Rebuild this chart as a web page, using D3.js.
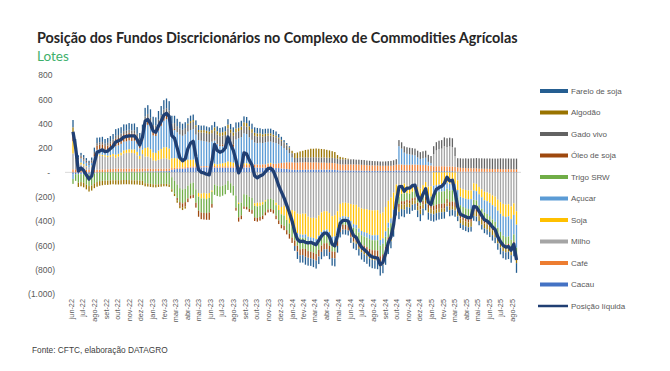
<!DOCTYPE html>
<html>
<head>
<meta charset="utf-8">
<script src="https://cdn.jsdelivr.net/npm/d3@7"></script>
<style>
body { margin: 0; background: #fff; }
svg { display: block; font-family: "Liberation Sans", Arial, sans-serif; }
</style>
</head>
<body>
<script>
// weekly CFTC data (mil contratos), jun-22 .. ago-25
var firstWeek = new Date(2022, 5, 7);

var cacau = [-15,-15,-15,-15,-15,-15,-18,-18,-10,-5,
  0,2,2,3,3,4,5,5,5,5, 5,5,5,5,5,5,6,8,8,8, 8,9,9,10,10,10,12,20,25,28,
  30,30,32,35,38,40,40,40,40,42, 42,40,40,40,38,38,38,38,38,38, 38,40,40,40,40,40,40,40,40,40,
  38,38,38,38,38,38,36,35,32,30, 28,25,22,20,20,20,20,22,22,22, 22,22,22,22,22,22,22,22,20,18,
  15,15,15,15,15,15,14,14,14,13, 13,12,12,12,12,12,12,12,12,12, 12,15,15,15,12,12,12,12,12,10,
  10,10,10,8,8,10,10,10,10,10, 10,10,10,8,6,5,5,5,5,5, 5,5,4,4,4,4,3,3,3,3, 3,3,3,3,3,3,3];
var cafe = [25,25,25,25,22,22,20,20,20,22,
  22,22,22,22,24,24,25,25,25,25, 25,25,25,25,25,25,25,22,22,22, 20,20,20,20,20,20,18,15,12,12,
  10,10,10,10,10,10,10,10,10,10, 10,10,12,12,12,12,12,12,12,12, 12,20,20,20,20,20,20,22,25,25,
  25,28,28,30,30,32,35,40,45,50, 55,58,60,60,60,62,62,62,60,60, 60,60,58,58,58,56,56,55,55,52,
  50,50,50,50,50,50,50,50,48,48, 46,45,45,44,44,42,42,42,42,42, 45,48,50,50,50,50,50,52,52,52,
  50,50,50,48,48,40,40,40,40,40, 38,38,38,36,35,32,30,30,28,28, 28,28,26,26,25,25,25,24,24,24, 24,23,23,23,22,22,22];
var milho = [130,80,35,40,35,25,20,30,70,110,
  115,110,105,100,100,105,90,100,110,125, 130,132,130,128,110,80,120,100,100,90, 70,65,75,80,85,85,75,-40,-70,-100,
  -130,-140,-135,-110,-90,-85,-140,-170,-175,-170, -175,-170,-150,-100,-110,-115,-110,-100,-70,-90, -110,-190,-250,-250,-180,-185,-200,-210,-255,-250,
  -250,-245,-230,-220,-215,-225,-250,-270,-285,-275, -290,-300,-310,-320,-340,-345,-340,-340,-364,-374, -374,-378,-355,-330,-320,-320,-335,-360,-352,-320,
  -260,-250,-250,-255,-260,-266,-267,-287,-297,-301, -303,-310,-313,-312,-311,-341,-330,-285,-234,-208, -167,-100,-130,-102,-92,-110,-115,-105,-100,-120,
  -135,-105,-80,-118,-114,100,130,140,145,165, 160,165,160,90,-66,-130,-140,-145,-150,-150, -90,-95,-120,-140,-160,-165,-175,-190,-200,-225, -245,-260,-265,-262,-280,-255,-320];
var soja = [100,60,10,15,10,5,0,5,5,8,
  10,10,12,12,15,18,25,22,22,25, 25,28,28,30,28,25,35,70,75,70, 65,65,75,82,90,92,90,80,80,75,
  70,65,70,60,55,55,30,-30,-40,-45, -45,-40,-10,20,15,20,25,30,40,35, 30,10,-10,0,15,15,10,5,-20,-30,
  -25,-20,-10,5,10,0,-20,-40,-60,-80, -100,-120,-140,-150,-160,-165,-173,-170,-165,-160, -165,-170,-165,-160,-155,-150,-155,-170,-175,-140,
  -110,-110,-112,-112,-140,-160,-165,-175,-185,-190, -195,-200,-205,-205,-205,-215,-212,-200,-180,-170, -140,-90,-70,-75,-80,-60,-60,-55,-55,-70,
  -75,-70,-65,-80,-85,-110,-105,-100,-100,-100, -85,-95,-95,-95,-80,-70,-70,-72,-72,-70, -60,-60,-60,-65,-70,-72,-75,-80,-82,-90, -95,-100,-102,-100,-105,-95,-110];
var acucar = [-40,10,30,35,30,25,20,25,35,45,
  45,48,45,48,52,55,70,70,72,72, 70,72,70,72,68,62,70,170,185,170, 140,140,165,190,220,230,222,220,230,215,
  200,195,200,230,245,250,230,215,210,205, 200,195,200,190,170,145,140,135,170,145, 130,200,220,230,245,240,218,200,180,175,
  180,175,180,178,175,175,170,155,140,120, 100,75,40,-10,-20,-25,-25,-30,-30,-30, -32,-35,-32,-30,-28,-30,-32,-35,-38,-30,
  -25,-20,-20,-22,-25,-28,-30,-32,-35,-36, -38,-40,-40,-42,-42,-45,-45,-45,-42,-40, -38,-20,150,130,100,90,85,80,75,60,
  50,55,60,30,20,-60,-60,-60,-58,-55, -50,-55,-52,-55,-60,-70,-75,-78,-80,-80, -75,-75,-90,-95,-100,-105,-110,-118,-125,-140, -150,-160,-165,-165,-170,-160,-190];
var trigo = [-40,-55,-70,-65,-70,-85,-95,-90,-80,-75,
  -72,-70,-68,-68,-66,-65,-65,-65,-64,-63, -63,-64,-65,-66,-66,-68,-70,-90,-92,-95, -98,-100,-98,-96,-95,-95,-100,-100,-105,-110,
  -115,-115,-110,-105,-100,-100,-110,-115,-115,-118, -115,-120,-100,-85,-85,-85,-82,-80,-75,-78, -80,-100,-110,-105,-100,-100,-100,-100,-95,-95,
  -92,-90,-88,-85,-85,-85,-85,-85,-85,-85, -85,-85,-85,-80,-82,-97,-90,-90,-88,-88, -88,-88,-85,-82,-80,-82,-82,-85,-88,-70,
  -55,-50,-50,-50,-60,-65,-65,-70,-72,-75, -78,-80,-82,-82,-84,-88,-86,-80,-78,-75, -70,-60,-60,-60,-65,-55,-55,-52,-52,-60,
  -65,-60,-58,-65,-68,-105,-100,-100,-100,-100, -85,-95,-92,-95,-90,-85,-85,-85,-85,-82, -75,-75,-70,-70,-70,-68,-68,-66,-65,-65, -65,-64,-62,-62,-62,-60,-62];
var oleo = [55,30,5,10,8,5,0,5,20,35,
  35,38,30,35,40,42,60,60,60,62, 62,62,60,60,55,50,55,55,55,52, 50,48,50,50,50,50,48,20,10,-20,
  -30,-35,-35,-30,-25,-25,-40,-50,-55,-55, -55,-60,-30,10,5,10,15,20,30,25, 20,-25,-35,-30,-20,-20,-25,-30,-30,-30,
  -30,-30,-25,-25,-25,-28,-30,-30,-30,-35, -35,-40,-45,-45,-50,-50,-52,-64,-55,-55, -55,-55,-55,-52,-50,-50,-52,-55,-55,-45,
  -40,-40,-40,-40,-45,-48,-48,-50,-50,-52, -52,-55,-55,-55,-56,-58,-56,-55,-50,-48, -40,-30,-25,-25,-28,-25,-25,-22,-22,-28,
  -30,-28,-25,-30,-32,-40,-40,-40,-40,-40, -35,-38,-38,-40,-30,-25,-25,-25,-25,-25, -20,-20,-20,-20,-20,-20,-22,-22,-22,-22, -22,-22,-22,-22,-22,-20,-22];
var gado = [20,18,15,15,15,15,15,15,18,20,
  20,20,20,22,22,22,25,25,25,25, 25,26,26,26,26,26,26,35,35,36, 36,37,38,38,40,40,42,45,48,50,
  50,50,52,55,58,60,62,65,68,70, 70,70,70,70,70,72,72,72,72,70, 70,60,58,58,60,60,60,58,55,55,
  55,52,52,50,50,50,48,45,42,40, 38,36,35,38,38,40,40,40,40,42, 42,42,42,42,42,42,42,42,42,42,
  42,42,42,42,42,42,40,40,40,40, 38,38,36,36,35,35,35,36,38,40, 42,45,50,52,52,54,55,55,56,56,
  56,58,58,58,58,65,68,70,70,72, 72,72,72,70,75,78,78,80,80,82, 82,84,85,85,85,85,86,86,86,86, 88,88,88,88,88,88,88];
var algodao = [40,10,-35,-35,-38,-40,-45,-42,-40,-38,
  -38,-36,-35,-35,-34,-33,-35,-35,-35,-35, -35,-34,-34,-34,-34,-35,-35,-25,-25,-25, -25,-24,-22,-22,-20,-20,-20,-20,-20,-20,
  -20,-20,-18,10,15,15,15,18,18,20, 20,20,25,28,28,28,28,30,30,28, 28,30,28,28,30,30,30,30,25,25,
  22,20,20,18,18,15,12,10,8,5, 5,10,20,40,45,50,55,60,65,70, 70,72,72,70,68,65,60,55,50,30,
  20,15,10,5,-5,-10,-12,-15,-18,-20, -22,-25,-25,-28,-28,-30,-30,-30,-28,-25, -22,-15,-40,-40,-42,-35,-35,-32,-30,-35,
  -38,-35,-32,-38,-40,-30,-30,-30,-30,-30, -25,-28,-28,-30,-35,-38,-38,-38,-40,-40, -38,-38,-40,-40,-40,-40,-40,-40,-40,-42, -42,-42,-42,-42,-42,-40,-42];
var farelo = [60,40,20,20,22,20,20,22,35,45,
  40,42,38,40,42,45,55,55,52,55, 52,55,55,56,55,50,55,70,72,70, 68,68,72,75,78,80,78,65,60,60,
  55,50,48,45,45,45,40,40,38,38, 35,35,40,45,40,40,40,42,45,45, 42,50,45,48,50,50,48,45,45,45,
  42,42,40,40,38,38,35,30,25,20, 15,10,0,-40,-60,-60,-62,-65,-65,-62, -65,-65,-62,-60,-58,-55,-58,-62,-65,-55,
  -45,-40,-40,-40,-45,-50,-52,-55,-60,-62, -64,-65,-68,-68,-70,-72,-70,-65,-60,-58, -52,-40,-60,-60,-62,-55,-52,-50,-50,-55,
  -58,-55,-52,-58,-60,-60,-60,-58,-55,-55, -45,-50,-50,-50,-40,-40,-40,-40,-40,-40, -40,-40,-35,-40,-40,-42,-42,-45,-48,-52, -55,-58,-60,-60,-62,-60,-80];
var liquida = [333,200,10,35,15,-20,-55,-30,80,165,
  175,185,170,175,195,215,250,260,270,290, 295,300,300,300,270,225,290,420,435,400, 340,330,380,420,470,485,460,300,280,200,
  120,95,110,195,240,255,130,20,0,-5, -15,-20,90,230,180,165,175,200,290,230, 180,100,-5,40,160,150,100,60,-30,-45,
  -30,-20,5,30,35,10,-45,-110,-160,-210, -270,-330,-400,-490,-550,-570,-565,-575,-580,-575, -585,-595,-560,-525,-500,-500,-530,-590,-605,-520,
  -420,-395,-395,-400,-470,-520,-535,-580,-615,-635, -655,-680,-695,-700,-705,-760,-740,-670,-580,-530, -430,-250,-120,-115,-155,-130,-130,-110,-105,-190,
  -235,-180,-135,-245,-265,-190,-140,-125,-115,-90, -40,-70,-65,-160,-285,-345,-355,-365,-375,-370, -280,-285,-320,-355,-390,-400,-420,-450,-470,-530, -570,-600,-615,-610,-640,-590,-720];

var keys = ["cacau", "cafe", "milho", "soja", "acucar", "trigo", "oleo", "gado", "algodao", "farelo"];
var names = {cacau: "Cacau", cafe: "Café", milho: "Milho", soja: "Soja", acucar: "Açucar",
  trigo: "Trigo SRW", oleo: "Óleo de soja", gado: "Gado vivo", algodao: "Algodão", farelo: "Farelo de soja"};
var colors = {cacau: "#4472C4", cafe: "#ED7D31", milho: "#A5A5A5", soja: "#FFC000", acucar: "#5B9BD5",
  trigo: "#70AD47", oleo: "#9E480E", gado: "#636363", algodao: "#997300", farelo: "#255E91"};
var lineColor = "#203F73";

var yTicks = [800, 600, 400, 200, 0, -200, -400, -600, -800, -1000];
var meses = ["jan", "fev", "mar", "abr", "mai", "jun", "jul", "ago", "set", "out", "nov", "dez"];

var seriesData = {cacau: cacau, cafe: cafe, milho: milho, soja: soja, acucar: acucar,
  trigo: trigo, oleo: oleo, gado: gado, algodao: algodao, farelo: farelo};

var rows = liquida.map(function(v, i) {
  var r = {date: d3.timeDay.offset(firstWeek, i * 7), liquida: v};
  keys.forEach(function(k) { r[k] = seriesData[k][i]; });
  return r;
});

var width = 670, height = 371;

var svg = d3.select("body").append("svg")
    .attr("width", width)
    .attr("height", height);

var x = d3.scaleTime()
    .domain([rows[0].date, rows[rows.length - 1].date])
    .range([73, 516.5]);

var y = d3.scaleLinear()
    .domain([-1000, 800])
    .range([294, 75]);

// title
var title = svg.append("text")
    .attr("x", 37).attr("y", 43)
    .attr("fill", "#262626")
    .style("font-family", "Lato, 'Open Sans', sans-serif")
    .style("font-weight", "bold")
    .style("font-size", "14px")
    .text("Posição dos Fundos Discricionários no Complexo de Commodities Agrícolas");
var tl = title.node().getComputedTextLength();
title.style("font-size", (14 * 481 / tl) + "px");

svg.append("text")
    .attr("x", 37).attr("y", 61)
    .attr("fill", "#3DB06B")
    .style("font-family", "Lato, 'Open Sans', sans-serif")
    .style("font-size", "13.5px")
    .text("Lotes");

// y axis labels
var loc = d3.formatLocale({decimal: ",", thousands: ".", grouping: [3], currency: ["R$", ""]});
var fmt = loc.format(",d");
var yAxis = svg.append("g")
    .attr("transform", "translate(55,0)")
    .call(d3.axisLeft(y).tickValues(yTicks).tickSize(0).tickPadding(0)
      .tickFormat(function(d) {
        if (d === 0) return "-";
        return d < 0 ? "(" + fmt(-d) + ")" : fmt(d);
      }));
yAxis.select(".domain").remove();
yAxis.selectAll("text")
    .attr("fill", "#595959")
    .style("font-size", "8.5px")
    .style("font-family", "'Liberation Sans', Arial, sans-serif")
    .attr("x", function(d) { return d === 0 ? -5 : (d > 0 ? -2.5 : 0); });

// zero line
svg.append("line")
    .attr("x1", 65).attr("x2", 521)
    .attr("y1", y(0)).attr("y2", y(0))
    .attr("stroke", "#D9D9D9")
    .attr("stroke-width", 1);

// stacked bars
var stacked = d3.stack().keys(keys).offset(d3.stackOffsetDiverging)(rows);
var bw = 1.3;

svg.append("g")
  .selectAll("g")
  .data(stacked)
  .enter().append("g")
    .attr("fill", function(s) { return colors[s.key]; })
  .selectAll("rect")
  .data(function(s) { return s; })
  .enter().append("rect")
    .attr("x", function(d) { return x(d.data.date) - bw / 2; })
    .attr("width", bw)
    .attr("y", function(d) { return y(Math.max(d[0], d[1])); })
    .attr("height", function(d) { return Math.abs(y(d[0]) - y(d[1])); });

// net position line
svg.append("path")
    .datum(rows)
    .attr("fill", "none")
    .attr("stroke", lineColor)
    .attr("stroke-width", 3.3)
    .attr("stroke-linejoin", "round")
    .attr("d", d3.line()
      .x(function(d) { return x(d.date); })
      .y(function(d) { return y(d.liquida); }));

// x axis month labels
var months = d3.timeMonth.range(new Date(2022, 5, 1), new Date(2025, 7, 2));
var xAxis = svg.append("g")
    .attr("transform", "translate(0,299)")
    .call(d3.axisBottom(x).tickValues(months).tickSize(0)
      .tickFormat(function(d) { return meses[d.getMonth()] + "-" + String(d.getFullYear()).slice(2); }));
xAxis.select(".domain").remove();
xAxis.selectAll("text")
    .attr("x", 0).attr("y", 0).attr("dy", "0.32em")
    .attr("transform", "rotate(-90)")
    .style("text-anchor", "end")
    .style("font-size", "7.3px")
    .style("font-family", "'Liberation Sans', Arial, sans-serif")
    .attr("fill", "#595959");

// legend
var legendItems = keys.slice().reverse();
var lg = svg.append("g").attr("transform", "translate(540,91)");
legendItems.forEach(function(k, i) {
  var g = lg.append("g").attr("transform", "translate(0," + (i * 21.5) + ")");
  g.append("rect").attr("x", 0).attr("y", -2).attr("width", 28).attr("height", 4)
    .attr("fill", colors[k]);
  g.append("text").attr("x", 31).attr("y", 0).attr("dy", "0.35em")
    .attr("fill", "#595959").style("font-size", "8px")
    .text(names[k]);
});
var gl = lg.append("g").attr("transform", "translate(0," + (10 * 21.5) + ")");
gl.append("line").attr("x1", -2).attr("x2", 28).attr("y1", 0).attr("y2", 0)
  .attr("stroke", lineColor).attr("stroke-width", 2.5);
gl.append("text").attr("x", 31).attr("y", 0).attr("dy", "0.35em")
  .attr("fill", "#595959").style("font-size", "8px")
  .text("Posição líquida");

// source
svg.append("text")
    .attr("x", 32).attr("y", 353)
    .attr("fill", "#404040")
    .style("font-size", "8.3px")
    .text("Fonte: CFTC, elaboração  DATAGRO");
</script>
</body>
</html>
